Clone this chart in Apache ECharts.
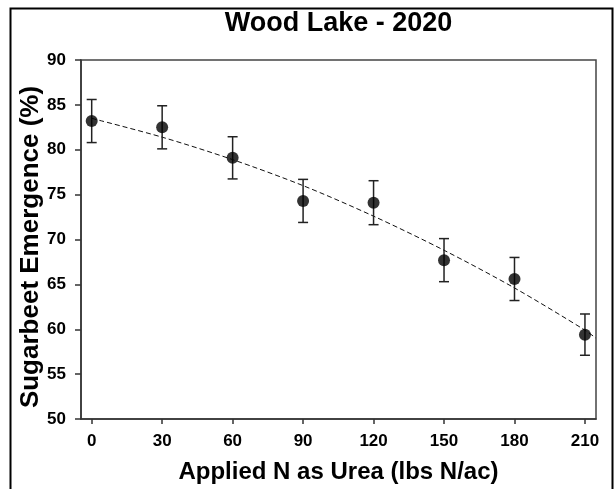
<!DOCTYPE html>
<html><head><meta charset="utf-8">
<script src="https://cdn.jsdelivr.net/npm/echarts@6/dist/echarts.min.js"></script>
<style>html,body{margin:0;padding:0;background:#fff}#c{width:616px;height:489px}</style>
</head><body><div id="c"></div>
<script>
// Data
const nRates = [0, 30, 60, 90, 120, 150, 180, 210];
const emergence = [83.2, 82.5, 79.1, 74.3, 74.1, 67.7, 65.6, 59.4];
const stdErr = [2.4, 2.4, 2.35, 2.4, 2.45, 2.4, 2.4, 2.3];
// dashed fitted curve
const fitX = [0, 30, 60, 90, 120, 150, 180, 210, 214.7];
const fitY = [83.5, 81.4, 78.9, 76.0, 72.6, 68.8, 64.6, 59.9, 59.0];
const xTickValues = [0, 30, 60, 90, 120, 150, 180, 210];
const titleText = 'Wood Lake - 2020';
const xName = 'Applied N as Urea (lbs N/ac)';
const yName = 'Sugarbeet Emergence (%)';

const FONT = '"Liberation Sans", Arial, sans-serif';
const chart = echarts.init(document.getElementById('c'), null, {renderer: 'canvas'});

const errData = nRates.map((x, i) => [x, emergence[i] - stdErr[i], emergence[i] + stdErr[i]]);
const pts = nRates.map((x, i) => [x, emergence[i]]);
const fitPts = fitX.map((x, i) => [x, fitY[i]]);

chart.setOption({
  animation: false,
  backgroundColor: '#fff',
  grid: {left: 81, right: 20, top: 60, bottom: 68, show: true, borderColor: '#444', borderWidth: 1.5, backgroundColor: 'transparent'},
  xAxis: {
    type: 'value', min: -4.55, max: 214.7,
    name: xName, nameLocation: 'middle', nameGap: 41,
    nameTextStyle: {fontFamily: FONT, fontWeight: 'bold', fontSize: 24, color: '#000'},
    axisLine: {show: true, onZero: false, lineStyle: {color: '#333', width: 1.5}},
    axisTick: {show: true, inside: false, length: 5, customValues: xTickValues, lineStyle: {color: '#333', width: 1.5}},
    axisLabel: {customValues: xTickValues, margin: 14, fontFamily: FONT, fontWeight: 'bold', fontSize: 17, color: '#000'},
    splitLine: {show: false}
  },
  yAxis: {
    type: 'value', min: 50, max: 90, interval: 5,
    axisLine: {show: true, onZero: false, lineStyle: {color: '#333', width: 1.5}},
    axisTick: {show: true, inside: false, length: 6, lineStyle: {color: '#333', width: 1.5}},
    axisLabel: {margin: 15, fontFamily: FONT, fontWeight: 'bold', fontSize: 17, color: '#000'},
    splitLine: {show: false}
  },
  graphic: [
    {type: 'rect', silent: true, shape: {x: 10.5, y: 8.5, width: 602, height: 520}, style: {fill: 'none', stroke: '#000', lineWidth: 2}},
    {type: 'text', x: 338.5, y: 24, style: {text: titleText, fontFamily: FONT, fontWeight: 'bold', fontSize: 27, fill: '#000', align: 'center', verticalAlign: 'middle'}},
    {type: 'text', x: 31, y: 247, rotation: Math.PI / 2, style: {text: yName, fontFamily: FONT, fontWeight: 'bold', fontSize: 26, fill: '#000', align: 'center', verticalAlign: 'middle'}}
  ],
  series: [
    {
      type: 'line', data: fitPts, smooth: 0.3, showSymbol: false, z: 1,
      lineStyle: {color: '#111', width: 1, type: [5, 3]}
    },
    {
      type: 'custom', data: errData, z: 2,
      encode: {x: 0, y: [1, 2]},
      renderItem: function (params, api) {
        const x = api.value(0);
        const lo = api.coord([x, api.value(1)]);
        const hi = api.coord([x, api.value(2)]);
        const w = 5;
        const st = {stroke: '#222', lineWidth: 1.5};
        return {type: 'group', children: [
          {type: 'line', shape: {x1: lo[0], y1: lo[1], x2: hi[0], y2: hi[1]}, style: st},
          {type: 'line', shape: {x1: hi[0] - w, y1: hi[1], x2: hi[0] + w, y2: hi[1]}, style: st},
          {type: 'line', shape: {x1: lo[0] - w, y1: lo[1], x2: lo[0] + w, y2: lo[1]}, style: st}
        ]};
      }
    },
    {
      type: 'scatter', data: pts, symbol: 'circle', symbolSize: 12, z: 3,
      itemStyle: {color: '#000'}
    }
  ]
});
</script>
</body></html>
